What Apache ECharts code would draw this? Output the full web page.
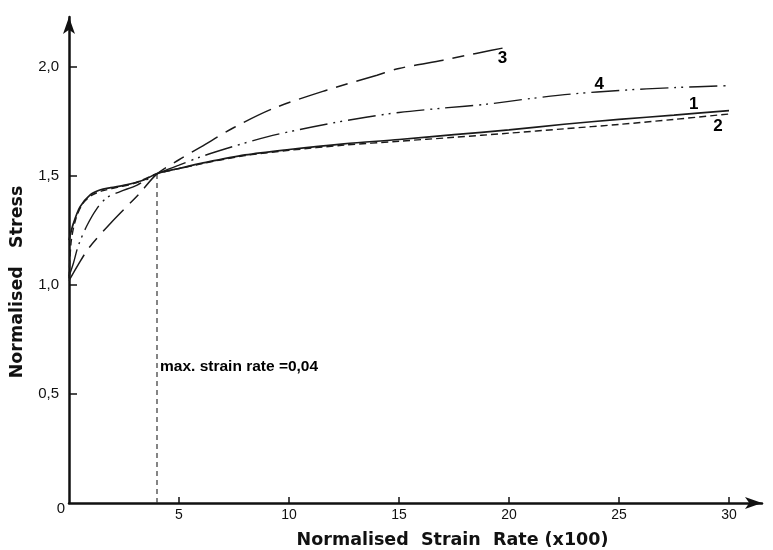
<!DOCTYPE html>
<html>
<head>
<meta charset="utf-8">
<script src="https://cdn.jsdelivr.net/npm/echarts@6/dist/echarts.min.js"></script>
<style>
html,body{margin:0;padding:0;background:#fff;}
#chart{width:773px;height:550px;}
</style>
</head>
<body>
<div id="chart"></div>
<script>
// ---- data ----
const xTickValues = [5, 10, 15, 20, 25, 30];
const yTickValues = [0, 0.5, 1, 1.5, 2];
const yTickLabels = ['0', '0,5', '1,0', '1,5', '2,0'];

const curve1X = [0, 0.2, 0.5, 0.95, 1.4, 1.9, 2.6, 3.4, 4, 5, 6, 8, 10, 12.5, 15, 17.5, 20, 22.5, 25, 27.5, 30];
const curve1Y = [1.206, 1.283, 1.359, 1.413, 1.436, 1.447, 1.46, 1.482, 1.512, 1.535, 1.558, 1.597, 1.622, 1.648, 1.668, 1.69, 1.712, 1.738, 1.76, 1.78, 1.80];

const curve2X = [0, 0.1, 0.3, 0.6, 1, 1.5, 2.2, 3, 4, 6, 8, 10, 12.5, 15, 17.5, 20, 22.5, 25, 27.5, 30];
const curve2Y = [1.03, 1.2, 1.3, 1.37, 1.41, 1.432, 1.448, 1.468, 1.51, 1.556, 1.594, 1.618, 1.642, 1.66, 1.678, 1.697, 1.717, 1.737, 1.76, 1.785];

const curve3X = [0, 0.4, 0.9, 1.9, 3.2, 4, 5, 6, 7.5, 9.3, 11.7, 14, 15, 17, 18.5, 20];
const curve3Y = [1.02, 1.09, 1.17, 1.285, 1.42, 1.51, 1.575, 1.634, 1.723, 1.811, 1.894, 1.963, 1.994, 2.032, 2.063, 2.093];

const curve4X = [0, 0.2, 0.42, 0.8, 1.26, 1.71, 2.3, 3.1, 4, 5, 6, 7.5, 9, 10.5, 12, 13.5, 15, 17, 19, 21, 23, 25, 27.5, 30];
const curve4Y = [1.04, 1.10, 1.18, 1.27, 1.35, 1.40, 1.428, 1.459, 1.51, 1.55, 1.589, 1.637, 1.68, 1.714, 1.744, 1.77, 1.792, 1.812, 1.83, 1.856, 1.878, 1.893, 1.906, 1.915];

const maxRateX = [4, 4];
const maxRateY = [0, 1.51];

const curveNames = ['1', '2', '3', '4'];
const curveLabelX = [28.4, 29.5, 19.7, 24.1];
const curveLabelY = [1.83, 1.73, 2.04, 1.92];

const noteText = 'max. strain rate =0,04';
const notePos = [4, 0.624];

// ---- build ----
const pair = (xs, ys) => xs.map((x, i) => [x, ys[i]]);
const ink = '#1a1a1a';

const lineSeries = (data, type, width) => ({
  type: 'line', data: data, symbol: 'none', smooth: 0.3,
  lineStyle: { color: ink, width: width, type: type }, silent: true, z: 3
});

const option = {
  animation: false,
  backgroundColor: '#fff',
  grid: { left: 69, right: 11, top: 17, bottom: 47, containLabel: false, outerBoundsMode: 'none' },
  xAxis: {
    type: 'value', min: 0, max: 31.5,
    axisLine: { show: true, lineStyle: { color: '#111', width: 2.5 }, symbol: ['none', 'arrow'], symbolSize: [9, 17] },
    axisTick: { show: true, inside: true, length: 6, lineStyle: { color: '#111', width: 1.5 }, customValues: xTickValues },
    axisLabel: { customValues: xTickValues, margin: 5, color: '#111', fontSize: 14, fontFamily: 'Liberation Sans' },
    splitLine: { show: false },
    name: 'Normalised  Strain  Rate (x100)',
    nameLocation: 'middle', nameGap: 28,
    nameTextStyle: { color: '#111', fontFamily: 'DejaVu Sans', fontWeight: 'bold', fontSize: 17.5, padding: [0, 0, 0, 74] }
  },
  yAxis: {
    type: 'value', min: 0, max: 2.23,
    axisLine: { show: true, lineStyle: { color: '#111', width: 2.5 }, symbol: ['none', 'arrow'], symbolSize: [9, 17] },
    axisTick: { show: true, inside: true, length: 8, lineStyle: { color: '#111', width: 1.5 }, customValues: yTickValues.slice(1) },
    axisLabel: {
      customValues: yTickValues, margin: 4, color: '#111', fontSize: 15, fontFamily: 'Liberation Sans',
      formatter: function (v) {
        const i = yTickValues.indexOf(v);
        const t = i >= 0 ? yTickLabels[i] : '';
        return v === 0 ? '{z|' + t + '}' : '{n|' + t + '}';
      },
      rich: {
        z: { padding: [12, 0, 0, 0], fontSize: 15, color: '#111', fontFamily: 'Liberation Sans' },
        n: { padding: [0, 6, 0, 0], fontSize: 15, color: '#111', fontFamily: 'Liberation Sans' }
      }
    },
    splitLine: { show: false },
    name: 'Normalised   Stress',
    nameLocation: 'middle', nameGap: 43,
    nameTextStyle: { color: '#111', fontFamily: 'DejaVu Sans', fontWeight: 'bold', fontSize: 17.5, padding: [0, 44, 0, 0] }
  },
  series: [
    lineSeries(pair(curve1X, curve1Y), 'solid', 1.7),
    lineSeries(pair(curve2X, curve2Y), [7, 4], 1.4),
    lineSeries(pair(curve3X, curve3Y), [30, 9, 12, 9], 1.5),
    lineSeries(pair(curve4X, curve4Y), [28, 6, 2, 5, 2, 6], 1.4),
    {
      type: 'line', data: pair(maxRateX, maxRateY), symbol: 'none', silent: true,
      lineStyle: { color: '#333', width: 1.2, type: [5, 4] }, z: 2
    },
    {
      type: 'scatter', symbolSize: 0, silent: true, z: 5,
      itemStyle: { opacity: 1 },
      data: curveNames.map((n, i) => ({ value: [curveLabelX[i], curveLabelY[i]], name: n })),
      label: {
        show: true, position: 'inside', formatter: '{b}', color: '#000',
        fontFamily: 'Liberation Sans', fontWeight: 'bold', fontSize: 17
      }
    },
    {
      type: 'scatter', symbolSize: 0, silent: true, z: 5,
      itemStyle: { opacity: 1 },
      data: [{ value: notePos, name: noteText }],
      label: {
        show: true, position: 'right', distance: 3, formatter: '{b}', color: '#000',
        fontFamily: 'Liberation Sans', fontWeight: 'bold', fontSize: 15.5
      }
    }
  ]
};

const chart = echarts.init(document.getElementById('chart'), null, { renderer: 'canvas' });
chart.setOption(option);
</script>
</body>
</html>
